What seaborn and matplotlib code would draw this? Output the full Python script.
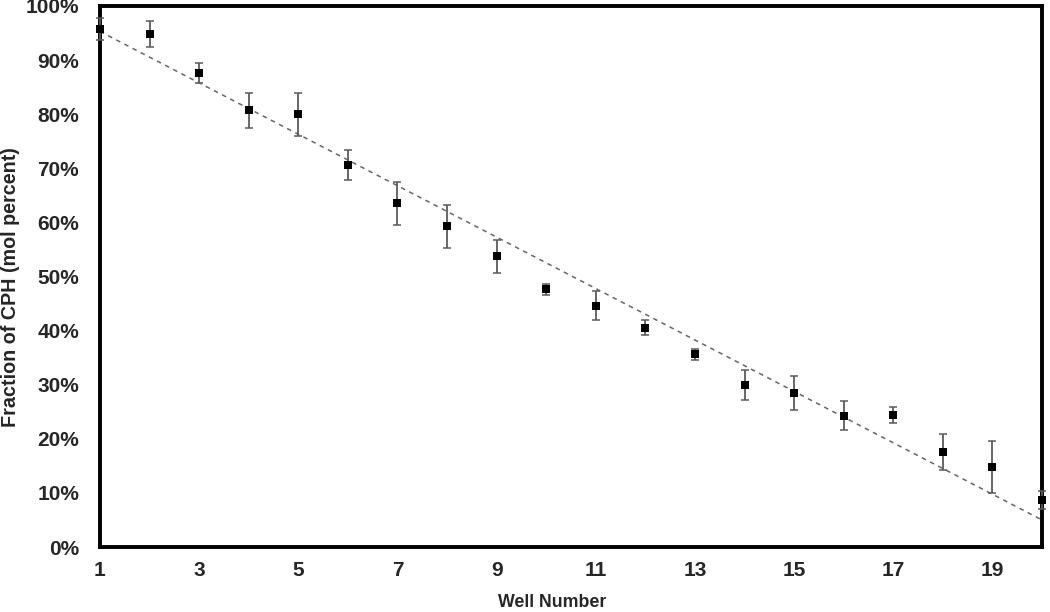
import numpy as np
import pandas as pd
import matplotlib
matplotlib.use("Agg")
import matplotlib.pyplot as plt
import seaborn as sns
from matplotlib.ticker import FuncFormatter

wells = [1, 2, 3, 4, 5, 6, 7, 8, 9, 10, 11, 12, 13, 14, 15, 16, 17, 18, 19, 20]
fraction = [95.7, 94.8, 87.6, 80.7, 80.0, 70.6, 63.5, 59.3, 53.7, 47.6,
            44.6, 40.5, 35.6, 30.0, 28.5, 24.3, 24.4, 17.6, 14.8, 8.7]
error = [2.0, 2.4, 1.8, 3.3, 4.0, 2.7, 4.0, 4.0, 3.0, 1.0,
         2.7, 1.4, 1.0, 2.8, 3.1, 2.6, 1.5, 3.3, 4.8, 1.7]
trend_x = [1, 20]
trend_y = [95.3, 5.0]
xticks = [1, 3, 5, 7, 9, 11, 13, 15, 17, 19]
yticks = [0, 10, 20, 30, 40, 50, 60, 70, 80, 90, 100]

sns.set_theme(style="white")
plt.rcParams['font.family'] = ['Liberation Sans', 'DejaVu Sans']

df = pd.DataFrame({"well": wells, "frac": fraction, "err": error})
tdf = pd.DataFrame({"x": trend_x, "y": trend_y})

fig = plt.figure(figsize=(10.5, 6.12), dpi=100)
ax = fig.add_axes([0.0952, 0.1062, 0.8972, 0.884])

sns.lineplot(data=tdf, x="x", y="y", ax=ax, color="#666666", linewidth=1.1,
             linestyle=(0, (3, 3)), zorder=2)
ax.errorbar(df["well"], df["frac"], yerr=df["err"], fmt="none", ecolor="#5a5a5a",
            elinewidth=1.3, capsize=3.2, capthick=1.1, zorder=3, clip_on=False)
sns.scatterplot(data=df, x="well", y="frac", ax=ax, marker="s", s=30, color="black",
                edgecolor="black", linewidth=0, zorder=4, clip_on=False)

ax.set_xlim(1, 20)
ax.set_ylim(0, 100)
ax.set_xticks(xticks)
ax.set_yticks(yticks)
ax.yaxis.set_major_formatter(FuncFormatter(lambda v, p: f"{int(v)}%"))
ax.tick_params(axis="both", which="major", direction="out", length=4, width=1,
               color="#555555", labelsize=15)
ax.tick_params(axis="y", pad=11)
ax.tick_params(axis="x", pad=6)
for lab in ax.get_xticklabels() + ax.get_yticklabels():
    lab.set_fontweight("bold")
for sp in ax.spines.values():
    sp.set_visible(True)
    sp.set_color("black")
    sp.set_linewidth(2.8)

ax.set_xlabel("Well Number", fontsize=12.8, fontweight="bold")
ax.set_ylabel("Fraction of CPH (mol percent)", fontsize=14.2, fontweight="bold")
ax.xaxis.set_label_coords(0.48, -0.102)
ax.yaxis.set_label_coords(-0.0945, 0.481)
ax.xaxis.label.set_va("center")
ax.yaxis.label.set_va("center")

fig.savefig("out.png", dpi=100)
